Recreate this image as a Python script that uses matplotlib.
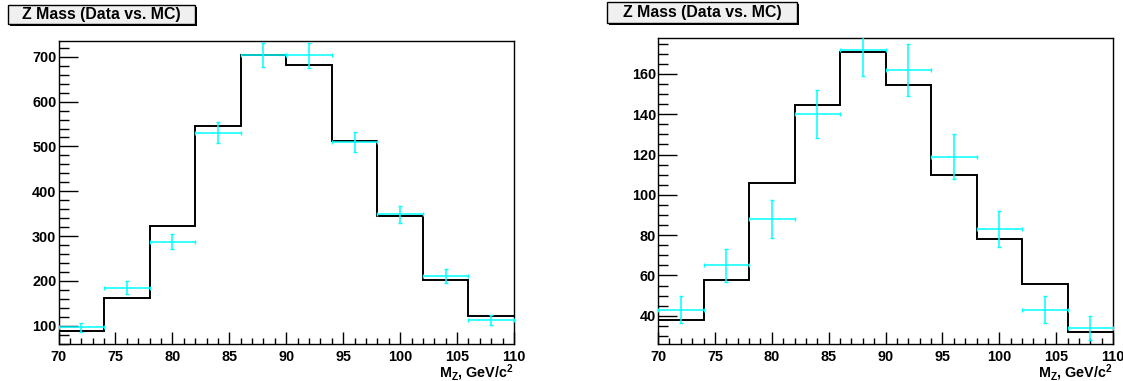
import matplotlib
matplotlib.use("Agg")
import matplotlib.pyplot as plt
from matplotlib.patches import Rectangle
from matplotlib.ticker import MultipleLocator

plt.rcParams['font.family'] = ['Liberation Sans', 'DejaVu Sans']
plt.rcParams['font.weight'] = 'bold'
plt.rcParams['mathtext.fontset'] = 'custom'
plt.rcParams['mathtext.rm'] = 'Liberation Sans:bold'
plt.rcParams['mathtext.bf'] = 'Liberation Sans:bold'
plt.rcParams['mathtext.it'] = 'Liberation Sans:bold'
plt.rcParams['mathtext.default'] = 'bf'

# ---- data ----
bin_edges = [70, 74, 78, 82, 86, 90, 94, 98, 102, 106, 110]
bin_centers = [72, 76, 80, 84, 88, 92, 96, 100, 104, 108]
half_width = [2] * 10

left_mc = [87, 162, 323, 545, 705, 682, 512, 345, 202, 122]
left_data = [96, 185, 287, 531, 704, 703, 510, 349, 211, 113]
left_err = [10, 14, 17, 23, 27, 27, 23, 19, 15, 11]

right_mc = [38, 58, 106, 144.6, 171, 154.5, 110, 78, 56, 32]
right_data = [43, 65, 88, 140, 172, 162, 119, 83, 43, 34]
right_err = [6.6, 8.2, 9.4, 11.8, 13, 12.7, 11, 9.1, 6.6, 6]

title = "Z Mass (Data vs. MC)"
xlabel = r"M$_{Z}$, GeV/c$^{2}$"
xticks = [70, 75, 80, 85, 90, 95, 100, 105, 110]

W, H = 1123, 381
fig = plt.figure(figsize=(W / 100, H / 100), dpi=100)

LBL = 10.4


def px_axes(l, r, t, b):
    return fig.add_axes([l / W, 1 - b / H, (r - l) / W, (b - t) / H])


def title_box(x0, x1, y0, y1):
    sh = 2.2
    fig.patches.append(Rectangle((x0 / W + sh / W, 1 - (y1 + sh) / H), (x1 - x0) / W, (y1 - y0) / H,
                                 transform=fig.transFigure, facecolor='black', edgecolor='none', zorder=1))
    fig.patches.append(Rectangle((x0 / W, 1 - y1 / H), (x1 - x0) / W, (y1 - y0) / H,
                                 transform=fig.transFigure, facecolor='#f0f0f0', edgecolor='black',
                                 linewidth=1.0, zorder=2))
    fig.text((x0 + x1) / 2 / W, 1 - (y0 + y1) / 2 / H, title, ha='center', va='center',
             fontsize=11.4, fontweight='bold', zorder=3)


def panel(ax, mc, data, err, ylim, ymajor, yminor):
    ax.stairs(mc, bin_edges, color='black', linewidth=1.4, baseline=None, zorder=2)
    ax.errorbar(bin_centers, data, yerr=err, xerr=half_width, fmt='none', ecolor='#00ffff',
                elinewidth=1.1, capsize=1.6, capthick=1.0, zorder=3)
    ax.set_xlim(70, 110)
    ax.set_ylim(*ylim)
    ax.set_xticks(xticks)
    ax.set_xticklabels([str(v) for v in xticks])
    ax.xaxis.set_minor_locator(MultipleLocator(1))
    ax.yaxis.set_major_locator(MultipleLocator(ymajor))
    ax.yaxis.set_minor_locator(MultipleLocator(yminor))
    ax.tick_params(axis='x', which='major', direction='in', length=9, width=1, pad=4,
                   labelsize=LBL, top=False)
    ax.tick_params(axis='x', which='minor', direction='in', length=4.5, width=1, top=False)
    ax.tick_params(axis='y', which='major', direction='in', length=14, width=1, pad=1.5,
                   labelsize=LBL, right=False)
    ax.tick_params(axis='y', which='minor', direction='in', length=7, width=1, right=False)
    for lab in ax.get_xticklabels() + ax.get_yticklabels():
        lab.set_fontweight('bold')
    for s in ax.spines.values():
        s.set_linewidth(1.0)
    ax.set_xlabel(xlabel, fontsize=LBL, fontweight='bold', loc='right', labelpad=-1)


ax1 = px_axes(58.5, 514, 40.7, 344)
panel(ax1, left_mc, left_data, left_err, (59, 736), 100, 20)
ax2 = px_axes(658, 1113, 38.3, 344)
panel(ax2, right_mc, right_data, right_err, (26, 177.7), 20, 5)

title_box(7.5, 195, 4.7, 24)
title_box(607, 797, 1.7, 22.5)

fig.savefig("out.png", dpi=100)
